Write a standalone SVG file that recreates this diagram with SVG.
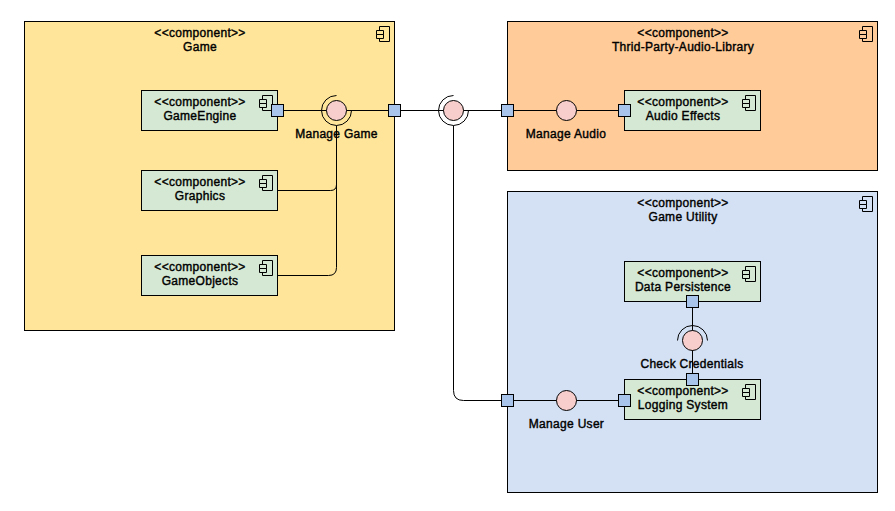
<svg xmlns="http://www.w3.org/2000/svg" width="895" height="511" viewBox="0 0 895 511">
<defs>
<style>
text{font-family:"Liberation Sans",Arial,sans-serif;font-size:12px;fill:#000;text-anchor:middle;stroke:#000;stroke-width:.4px;letter-spacing:.3px}
.box{stroke:#000;stroke-width:1}
.sub{fill:#d5e8d4;stroke:#000}
.ic{fill:none;stroke:#000}
.port{fill:#a9c4eb;stroke:#000}
.lol{fill:#f8cecc;stroke:#000}
.arc{fill:none;stroke:#000}
.c{fill:none;stroke:#000}
</style>
<g id="icon"><path class="ic" d="M3.500 4.500V.5H13.500V15.500H3.500V12.500M.5 4.500H7.500V8.500H.5ZM.5 8.500H7.500V12.500H.5Z"/></g>
</defs>
<rect width="895" height="511" fill="#fff"/>
<g id="game"><rect class="box" x="24.500" y="21.500" width="370" height="309" fill="#ffe599"/><use href="#icon" x="376" y="26"/><text x="200" y="37">&lt;&lt;component&gt;&gt;</text><text x="200" y="51">Game</text></g>
<g id="audio-lib"><rect class="box" x="507.500" y="21.500" width="370" height="149" fill="#ffcc99"/><use href="#icon" x="859" y="26"/><text x="683" y="37">&lt;&lt;component&gt;&gt;</text><text x="683" y="51">Thrid-Party-Audio-Library</text></g>
<g id="game-utility"><rect class="box" x="507.500" y="191.500" width="370" height="301" fill="#d4e1f5"/><use href="#icon" x="859" y="196"/><text x="683" y="207">&lt;&lt;component&gt;&gt;</text><text x="683" y="221">Game Utility</text></g>
<g id="connectors">
<path class="c" d="M277.500 110.500H394.500M394.500 110.500H507.500M507.500 110.500H624.500"/>
<path class="c" d="M277.500 190.500H330.500Q336.500 190.500 336.500 184.500M277.500 275.500H328.500Q336.500 275.500 336.500 267.500V125.500"/>
<path class="c" d="M453.500 125.500V390.500Q453.500 400.500 463.500 400.500H624.500"/>
<path class="c" d="M692.500 301.500V379.500"/>
</g>
<g id="gameengine"><rect class="sub" x="141.500" y="90.500" width="136" height="40"/><use href="#icon" x="259" y="95"/><text x="200" y="106">&lt;&lt;component&gt;&gt;</text><text x="200" y="120">GameEngine</text></g>
<g id="graphics"><rect class="sub" x="141.500" y="170.500" width="136" height="40"/><use href="#icon" x="259" y="175"/><text x="200" y="186">&lt;&lt;component&gt;&gt;</text><text x="200" y="200">Graphics</text></g>
<g id="gameobjects"><rect class="sub" x="141.500" y="255.500" width="136" height="40"/><use href="#icon" x="259" y="260"/><text x="200" y="271">&lt;&lt;component&gt;&gt;</text><text x="200" y="285">GameObjects</text></g>
<g id="audio-effects"><rect class="sub" x="624.500" y="90.500" width="136" height="40"/><use href="#icon" x="742" y="95"/><text x="683" y="106">&lt;&lt;component&gt;&gt;</text><text x="683" y="120">Audio Effects</text></g>
<g id="data-persistence"><rect class="sub" x="624.500" y="261.500" width="136" height="40"/><use href="#icon" x="742" y="266"/><text x="683" y="277">&lt;&lt;component&gt;&gt;</text><text x="683" y="291">Data Persistence</text></g>
<g id="logging-system"><rect class="sub" x="624.500" y="379.500" width="136" height="40"/><use href="#icon" x="742" y="384"/><text x="683" y="395">&lt;&lt;component&gt;&gt;</text><text x="683" y="409">Logging System</text></g>
<g id="manage-game"><path class="arc" d="M336.500 95.500A15 15 0 1 0 351.500 110.500"/><circle class="lol" cx="336.500" cy="110.500" r="10"/><text x="336.500" y="138">Manage Game</text></g>
<g id="required"><path class="arc" d="M453.500 95.500A15 15 0 1 0 468.500 110.500"/><circle class="lol" cx="453.500" cy="110.500" r="10"/></g>
<g id="manage-audio"><circle class="lol" cx="566.500" cy="110.500" r="10"/><text x="566" y="138">Manage Audio</text></g>
<g id="manage-user"><circle class="lol" cx="566.500" cy="400.500" r="10"/><text x="566.500" y="428">Manage User</text></g>
<g id="check-credentials"><path class="arc" d="M677.500 340.500A15 15 0 0 1 707.500 340.500"/><circle class="lol" cx="692.500" cy="340.500" r="10"/><path class="c" d="M692.500 350.500V379"/><text x="692" y="368">Check Credentials</text></g>
<g id="ports">
<rect class="port" x="271.500" y="104.500" width="12" height="12"/>
<rect class="port" x="388.500" y="104.500" width="12" height="12"/>
<rect class="port" x="501.500" y="104.500" width="12" height="12"/>
<rect class="port" x="618.500" y="104.500" width="12" height="12"/>
<rect class="port" x="686.500" y="295.500" width="12" height="12"/>
<rect class="port" x="686.500" y="373.500" width="12" height="12"/>
<rect class="port" x="501.500" y="394.500" width="12" height="12"/>
<rect class="port" x="618.500" y="394.500" width="12" height="12"/>
</g>
</svg>
